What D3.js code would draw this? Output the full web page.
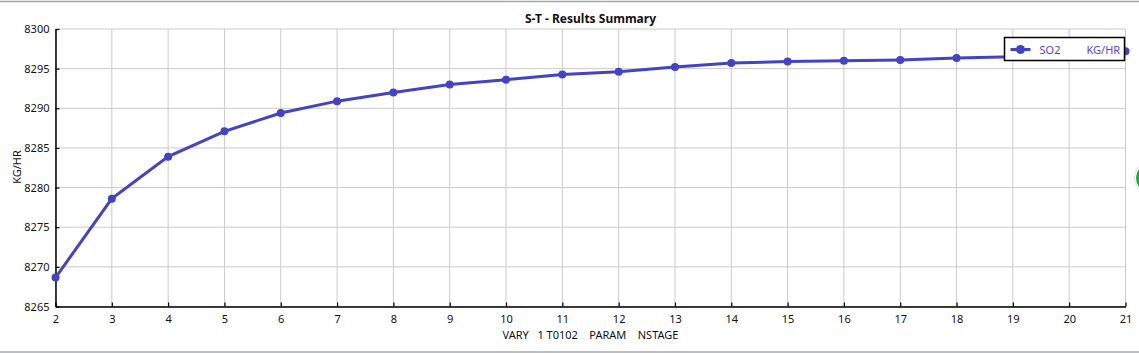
<!DOCTYPE html>
<html>
<head>
<meta charset="utf-8">
<script src="https://cdn.jsdelivr.net/npm/d3@7"></script>
<style>
  body { margin: 0; background: #fff; }
  svg { display: block; font-family: "Noto Sans", sans-serif; }
</style>
</head>
<body>
<div id="chart"></div>
<script>
var stages = [2, 3, 4, 5, 6, 7, 8, 9, 10, 11, 12, 13, 14, 15, 16, 17, 18, 19, 20, 21];
var so2 = [8268.65, 8278.6, 8283.9, 8287.1, 8289.4, 8290.9, 8292.0, 8293.0, 8293.6, 8294.25,
           8294.6, 8295.2, 8295.7, 8295.9, 8296.0, 8296.1, 8296.35, 8296.5, 8296.7, 8297.2];
var yTicks = [8265, 8270, 8275, 8280, 8285, 8290, 8295, 8300];
var title = "S-T - Results Summary";
var xTitle = "VARY   1 T0102    PARAM    NSTAGE";
var yTitle = "KG/HR";
var seriesName = "SO2";
var seriesUnit = "KG/HR";

function draw() {
    var W = 1139, H = 353;
    var left = 55.5, right = 1125.5, plotTop = 29, plotBot = 306.5;
    var lineColor = "#4343c6";

    var svg = d3.select("#chart").append("svg")
        .attr("width", W)
        .attr("height", H);

    // window frame lines
    svg.append("line").attr("x1", 0).attr("x2", W).attr("y1", 1.5).attr("y2", 1.5)
        .style("stroke", "#a3a8ad").style("stroke-width", 1.5);
    svg.append("line").attr("x1", 0).attr("x2", W).attr("y1", 352).attr("y2", 352)
        .style("stroke", "#a3a8ad").style("stroke-width", 1.5);

    var x = d3.scaleLinear().domain([2, 21]).range([left, right]);
    var y = d3.scaleLinear().domain([8265, 8300]).range([plotBot, plotTop]);

    // grid
    svg.append("g").selectAll("line")
        .data(stages)
        .enter().append("line")
        .attr("x1", function(d) { return x(d); })
        .attr("x2", function(d) { return x(d); })
        .attr("y1", plotTop).attr("y2", plotBot)
        .style("stroke", "#cbcbcb").style("stroke-width", 1);

    svg.append("g").selectAll("line")
        .data(yTicks)
        .enter().append("line")
        .attr("x1", left).attr("x2", right)
        .attr("y1", function(d) { return y(d); })
        .attr("y2", function(d) { return y(d); })
        .style("stroke", "#cbcbcb").style("stroke-width", 1);

    // axes (ticks point inward)
    var xAxis = svg.append("g")
        .attr("transform", "translate(0," + plotBot + ")")
        .call(d3.axisBottom(x).tickValues(stages).tickSizeInner(-4).tickSizeOuter(0).tickPadding(9).tickFormat(d3.format("d")));
    var yAxis = svg.append("g")
        .attr("transform", "translate(" + left + ",0)")
        .call(d3.axisLeft(y).tickValues(yTicks).tickSizeInner(-4).tickSizeOuter(0).tickPadding(6).tickFormat(d3.format("d")));

    [xAxis, yAxis].forEach(function(a) {
        a.select(".domain").style("stroke", "#000").style("stroke-width", 1.5);
        a.selectAll(".tick line").style("stroke", "#000").style("stroke-width", 1.2);
        a.selectAll("text").style("font-family", "\"Noto Sans\", sans-serif")
            .style("font-size", "11px").style("fill", "#111");
    });

    // titles
    svg.append("text")
        .attr("x", (left + right) / 2).attr("y", 23)
        .attr("text-anchor", "middle")
        .style("font-size", "12px").style("font-weight", "bold").style("fill", "#111")
        .text(title);

    svg.append("text")
        .attr("x", (left + right) / 2).attr("y", 339)
        .attr("text-anchor", "middle")
        .style("font-size", "11px").style("fill", "#111")
        .style("white-space", "pre")
        .text(xTitle);

    svg.append("text")
        .attr("transform", "translate(21,167) rotate(-90)")
        .attr("text-anchor", "middle")
        .style("font-size", "11px").style("fill", "#111")
        .text(yTitle);

    // series
    var line = d3.line()
        .x(function(d, i) { return x(stages[i]); })
        .y(function(d) { return y(d); });

    svg.append("path")
        .datum(so2)
        .attr("d", line)
        .style("fill", "none")
        .style("stroke", lineColor)
        .style("stroke-width", 3);

    svg.append("g").selectAll("circle")
        .data(so2)
        .enter().append("circle")
        .attr("cx", function(d, i) { return x(stages[i]); })
        .attr("cy", function(d) { return y(d); })
        .attr("r", 4)
        .style("fill", lineColor);

    // legend
    var lg = svg.append("g").attr("transform", "translate(1004.5,37.5)");
    lg.append("rect")
        .attr("width", 120).attr("height", 23)
        .style("fill", "#fff").style("stroke", "#000").style("stroke-width", 1.5);
    lg.append("line")
        .attr("x1", 6).attr("x2", 26).attr("y1", 12).attr("y2", 12)
        .style("stroke", lineColor).style("stroke-width", 3);
    lg.append("circle")
        .attr("cx", 16).attr("cy", 12).attr("r", 4.5)
        .style("fill", lineColor);
    lg.append("text")
        .attr("x", 35).attr("y", 16)
        .style("font-size", "11px").style("fill", "#5b3fd6")
        .text(seriesName);
    lg.append("text")
        .attr("x", 82).attr("y", 16)
        .style("font-size", "11px").style("fill", "#5b3fd6")
        .text(seriesUnit);

    // green button peeking in at the right edge
    svg.append("circle")
        .attr("cx", 1151).attr("cy", 178).attr("r", 17)
        .style("fill", "#e2e2e2");
    svg.append("circle")
        .attr("cx", 1151).attr("cy", 178).attr("r", 16)
        .style("fill", "#fff");
    svg.append("circle")
        .attr("cx", 1151).attr("cy", 178).attr("r", 15)
        .style("fill", "#1fa84a");
}

draw();
</script>
</body>
</html>
